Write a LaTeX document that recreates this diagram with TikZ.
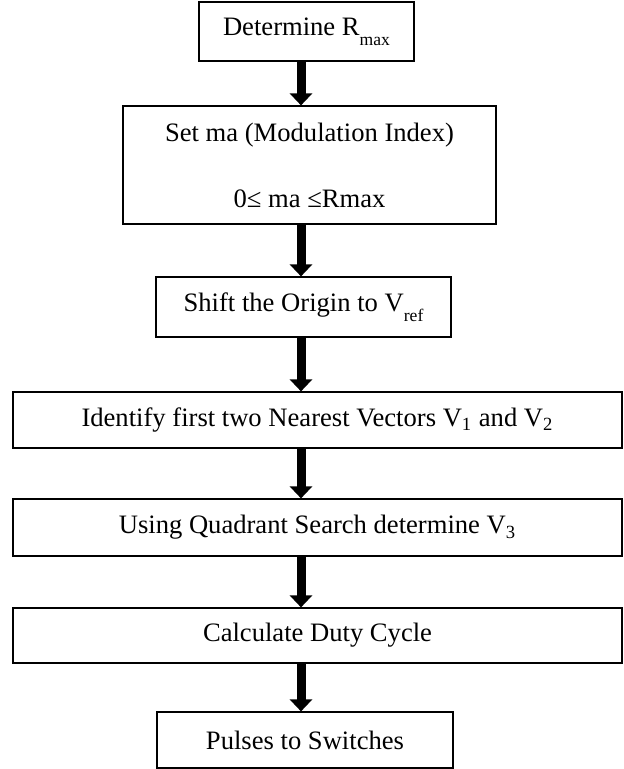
\documentclass[tikz,border=0pt]{standalone}
\usepackage{fontspec}
\setmainfont{Liberation Serif}
\usetikzlibrary{arrows.meta, positioning}
\newcommand{\lowsub}[1]{\raisebox{-5pt}{\fontsize{8.8}{10}\selectfont #1}}

\begin{document}
\begin{tikzpicture}[x=0.5pt, y=-0.5pt,
        stepbox/.style={draw, line width=0.6pt, inner sep=0pt, align=center,
            font=\fontsize{13.3}{15}\selectfont},
        flow/.style={line width=4.5pt, -{Triangle[width=11pt,length=6pt]}}]
        \useasboundingbox (0,0) rectangle (623,769);
        \coordinate (ax) at (301,0);

        \node[stepbox, minimum width=107.5pt, minimum height=29.5pt] (1) at (306.5,31.5) {Determine R\lowsub{max}};
        \node[stepbox, minimum width=186.5pt, minimum height=59pt] (2) at (309.5,165) {Set ma (Modulation Index)\\[18pt]0≤ ma ≤Rmax};
        \node[stepbox, minimum width=147.5pt, minimum height=30pt] (3) at (303.5,307) {Shift the Origin to V\lowsub{ref}};
        \node[stepbox, minimum width=304.5pt, minimum height=28pt] (4) at (317.5,420) {Identify first two Nearest Vectors V\textsubscript{1} and V\textsubscript{2}};
        \node[stepbox, minimum width=304.5pt, minimum height=28.5pt] (5) at (317.5,527.5) {Using Quadrant Search determine V\textsubscript{3}};
        \node[stepbox, minimum width=304.5pt, minimum height=27.5pt] (6) at (317.5,635.5) {Calculate Duty Cycle};
        \node[stepbox, minimum width=148pt, minimum height=28pt] (7) at (305,740) {Pulses to Switches};

        \path[flow]
        (1.south -| ax) edge (2.north -| ax)
        (2.south -| ax) edge (3.north -| ax)
        (3.south -| ax) edge (4.north -| ax)
        (4.south -| ax) edge (5.north -| ax)
        (5.south -| ax) edge (6.north -| ax)
        (6.south -| ax) edge (7.north -| ax)
        ;
    \end{tikzpicture}
\end{document}
